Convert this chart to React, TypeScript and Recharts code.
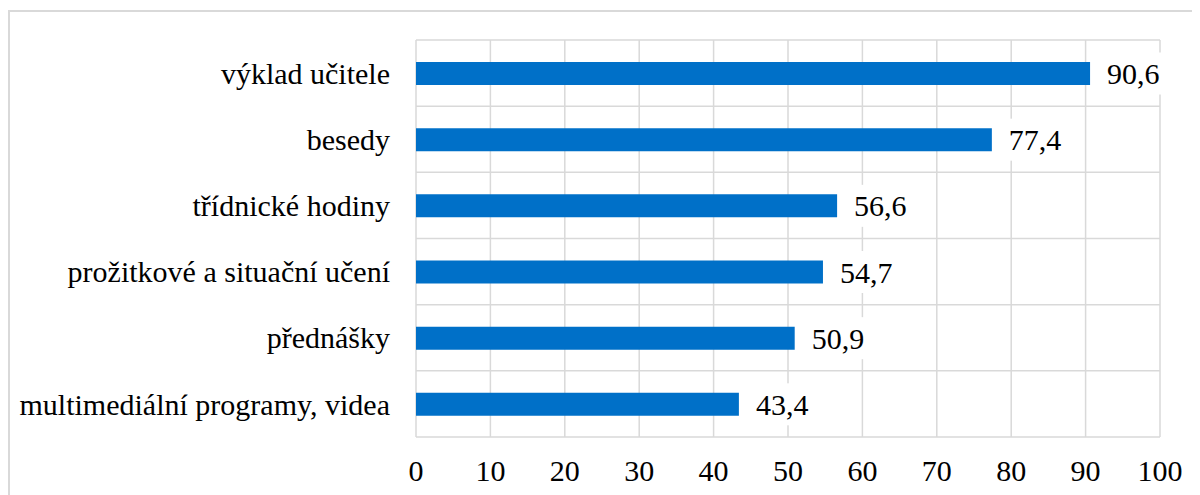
import React from 'react';
import { BarChart, Bar, XAxis, YAxis, CartesianGrid, LabelList } from 'recharts';

const categories = [
  'výklad učitele',
  'besedy',
  'třídnické hodiny',
  'prožitkové a situační učení',
  'přednášky',
  'multimediální programy, videa',
];
const values = [90.6, 77.4, 56.6, 54.7, 50.9, 43.4];
const xTicks = [0, 10, 20, 30, 40, 50, 60, 70, 80, 90, 100];

const data = categories.map((name, i) => ({ name, value: values[i] }));

const FONT = 'Liberation Serif';
const FS = 30;
const GRID = '#d9d9d9';
const BLUE = '#0070C8';

const fmt = (v: number) => v.toFixed(1).replace('.', ',');

const renderLabel = (props: any) => {
  const { x, y, width, height, value } = props;
  const endX = Number(x) + Number(width);
  const cy = Number(y) + Number(height) / 2;
  const txt = fmt(Number(value));
  const tw = txt.length * FS * 0.45;
  return (
    <g>
      <rect x={endX + 6} y={cy - 21} width={tw + 22} height={42} fill="#fff" />
      <text x={endX + 17} y={cy} dy="0.35em" fontFamily={FONT} fontSize={FS} fill="#000">
        {txt}
      </text>
    </g>
  );
};

export default function App() {
  return (
    <div style={{ marginLeft: -8, marginTop: -8 }}>
      <div
        style={{
          height: 0,
          overflow: 'visible',
          fontFamily: FONT,
          fontSize: 8,
          lineHeight: '8px',
          color: '#fff',
          whiteSpace: 'nowrap',
        }}
      >
        výklad učitele třídnické přednášky 0123456789,
      </div>
      <BarChart
        width={1200}
        height={495}
        layout="vertical"
        data={data}
        margin={{ top: 40, right: 40, bottom: 0, left: 0 }}
      >
        <rect x={9} y={11} width={1400} height={700} fill="none" stroke={GRID} strokeWidth={2} />
        <CartesianGrid
          stroke={GRID}
          strokeWidth={1.5}
          horizontalCoordinatesGenerator={({ offset }: any) =>
            Array.from(
              { length: categories.length + 1 },
              (_, i) => offset.top + (i * offset.height) / categories.length
            )
          }
        />
        <XAxis
          type="number"
          domain={[0, 100]}
          ticks={xTicks}
          height={58}
          axisLine={false}
          tickLine={false}
          tickMargin={17}
          interval={0}
          tick={{ fill: '#000', fontSize: FS, fontFamily: FONT }}
        />
        <YAxis
          type="category"
          dataKey="name"
          width={416}
          axisLine={false}
          tickLine={false}
          tickMargin={20}
          interval={0}
          tick={{ fill: '#000', fontSize: FS, fontFamily: FONT }}
        />
        <Bar dataKey="value" fill={BLUE} barSize={23} isAnimationActive={false}>
          <LabelList dataKey="value" content={renderLabel} />
        </Bar>
      </BarChart>
    </div>
  );
}
